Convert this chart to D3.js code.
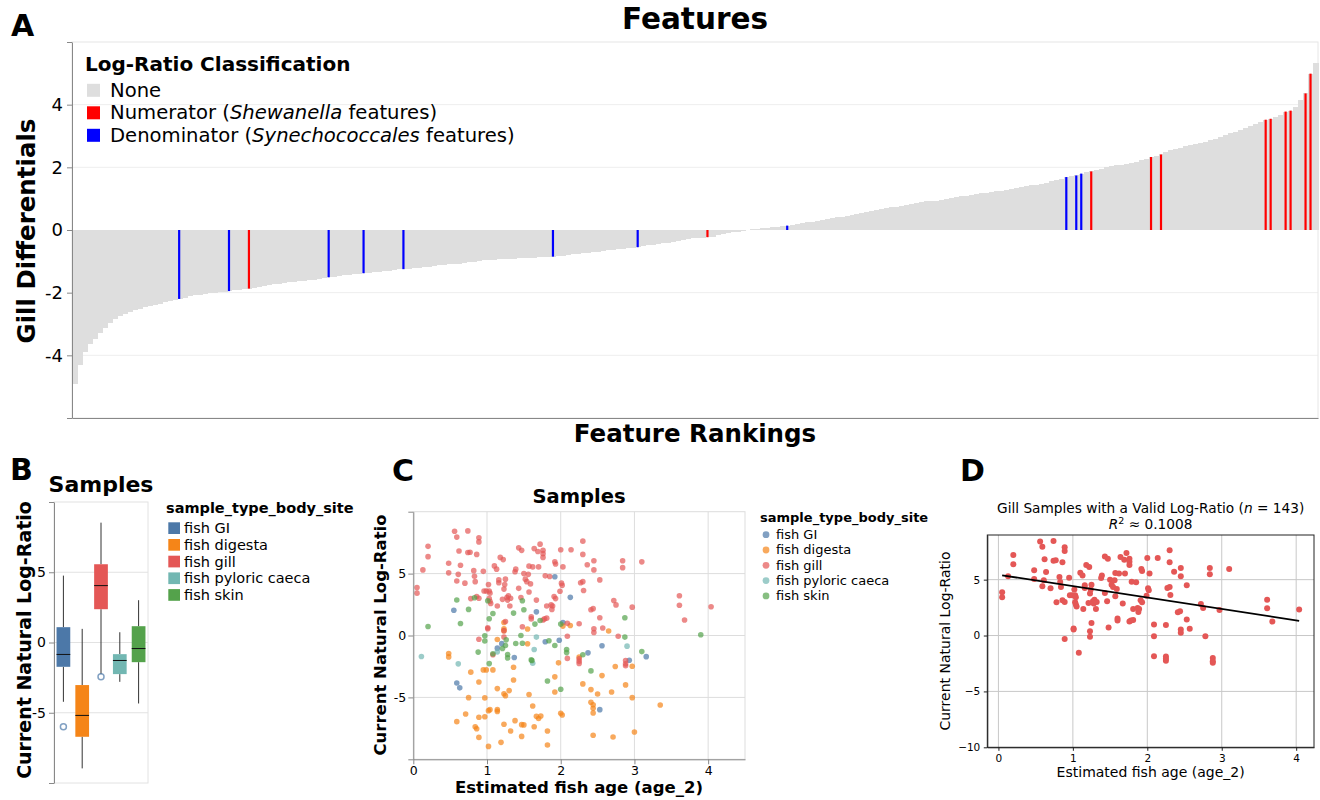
<!DOCTYPE html>
<html>
<head>
<meta charset="utf-8">
<script src="https://cdn.jsdelivr.net/npm/d3@7"></script>
<style>
  body { margin: 0; background: #fff; }
  text { font-family: "DejaVu Sans", sans-serif; }
</style>
</head>
<body>
<svg id="fig" width="1320" height="800"></svg>
<script>
// ---------- data ----------
// A: ranked gill differentials (one bar per feature rank)
const diffValues = [
  -4.90,-4.30,-3.88,-3.65,-3.48,-3.29,-3.12,-2.97,-2.84,-2.74,
  -2.67,-2.62,-2.56,-2.51,-2.47,-2.43,-2.39,-2.35,-2.31,-2.27,
  -2.23,-2.20,-2.16,-2.12,-2.09,-2.07,-2.04,-2.02,-2.00,-1.99,
  -1.97,-1.95,-1.93,-1.91,-1.89,-1.87,-1.84,-1.81,-1.78,-1.75,
  -1.73,-1.71,-1.69,-1.67,-1.66,-1.64,-1.62,-1.60,-1.58,-1.56,
  -1.53,-1.51,-1.49,-1.47,-1.45,-1.43,-1.42,-1.40,-1.38,-1.37,
  -1.35,-1.33,-1.31,-1.30,-1.28,-1.26,-1.25,-1.23,-1.22,-1.20,
  -1.18,-1.17,-1.15,-1.13,-1.12,-1.10,-1.08,-1.07,-1.05,-1.03,
  -1.01,-0.99,-0.97,-0.96,-0.95,-0.94,-0.93,-0.92,-0.91,-0.90,
  -0.89,-0.88,-0.88,-0.87,-0.86,-0.86,-0.85,-0.84,-0.82,-0.80,
  -0.78,-0.76,-0.74,-0.72,-0.71,-0.69,-0.67,-0.65,-0.63,-0.61,
  -0.60,-0.58,-0.56,-0.55,-0.52,-0.49,-0.47,-0.45,-0.43,-0.41,
  -0.38,-0.35,-0.32,-0.30,-0.27,-0.26,-0.25,-0.23,-0.21,-0.16,
  -0.12,-0.10,-0.07,-0.05,-0.02,0.01,0.02,0.04,0.05,0.07,
  0.09,0.11,0.12,0.14,0.16,0.18,0.21,0.24,0.27,0.30,
  0.33,0.36,0.38,0.41,0.43,0.46,0.49,0.52,0.55,0.58,
  0.61,0.64,0.66,0.69,0.72,0.75,0.78,0.81,0.84,0.86,
  0.89,0.91,0.93,0.94,0.96,0.98,1.01,1.04,1.07,1.10,
  1.12,1.15,1.17,1.19,1.21,1.23,1.26,1.28,1.31,1.34,
  1.37,1.40,1.43,1.45,1.48,1.51,1.55,1.59,1.64,1.69,
  1.72,1.74,1.80,1.84,1.87,1.91,1.96,2.00,2.03,2.06,
  2.09,2.12,2.14,2.17,2.22,2.28,2.33,2.37,2.41,2.48,
  2.54,2.59,2.63,2.67,2.71,2.74,2.78,2.82,2.86,2.91,
  2.96,3.02,3.08,3.14,3.20,3.27,3.33,3.39,3.45,3.52,
  3.55,3.60,3.66,3.78,3.81,3.94,4.15,4.36,4.99,5.34
];
const numeratorRanks = [35,127,204,216,218,239,240,243,244,247,248];
const denominatorRanks = [21,31,51,58,66,96,113,143,199,201,202];
const classColors = ["#dedede","#ff0000","#0000ff"];
const classLabels = [
  [["None",false]],
  [["Numerator (",false],["Shewanella",true],[" features)",false]],
  [["Denominator (",false],["Synechococcales",true],[" features)",false]]
];

// B/C: sample types
const sampleTypes = ["fish GI","fish digesta","fish gill","fish pyloric caeca","fish skin"];
const typeColors = ["#4c78a8","#f58518","#e45756","#72b7b2","#54a24b"];

// B: box plot summaries
const boxLower  = [-4.22,-8.96,-2.25,-2.80,-4.34];
const boxQ1     = [-1.73,-6.71, 2.37,-2.25,-1.40];
const boxMedian = [-0.85,-5.19, 4.05,-1.28,-0.43];
const boxQ3     = [ 1.09,-3.03, 5.57,-0.83, 1.16];
const boxUpper  = [ 4.76, 0.97, 8.53, 0.73, 3.01];
const boxOutliers = [[-6.0],[],[-2.44],[],[]];

// C/D: [age_2, log-ratio]
const giPoints = [[0.55,2.04],[0.59,-3.84],[0.63,-4.23],[1.14,-1.02],[1.20,-0.66],[1.37,-1.78],
  [1.67,1.91],[1.79,-0.50],[1.92,4.75],[1.98,-0.38],[2.03,1.04],[2.13,3.08],[2.37,-1.40],
  [2.56,-0.83],[2.53,-5.99],[2.93,-2.00],[3.16,-1.71]];
const digestaPoints = [[0.48,-1.46],[0.48,-1.73],[0.59,-6.96],[0.71,-6.34],[0.75,-5.02],[0.78,-2.96],
  [0.84,-7.37],[0.86,-7.53],[0.89,-6.60],[0.89,-8.23],[0.89,-3.75],[0.95,-2.78],[0.97,-5.04],
  [0.97,-6.56],[0.99,-2.78],[1.02,-6.07],[1.04,-5.99],[1.02,-8.96],[1.08,-2.78],[1.14,-4.29],
  [1.14,-0.32],[1.14,-5.99],[1.14,-6.13],[1.19,-8.63],[1.23,1.05],[1.23,0.54],[1.23,0.38],
  [1.23,-7.17],[1.23,-4.70],[1.25,-4.86],[1.30,-4.45],[1.32,-7.72],[1.36,-2.56],[1.36,-3.60],
  [1.38,-6.88],[1.47,-7.20],[1.50,-7.22],[1.47,-8.15],[1.55,0.52],[1.55,-0.67],[1.57,-4.77],
  [1.62,-5.69],[1.64,-7.37],[1.67,-6.53],[1.70,-6.70],[1.73,-6.50],[1.82,-7.72],[1.82,-8.85],
  [1.92,-3.34],[1.92,-4.56],[1.97,-2.21],[2.00,-6.28],[2.02,-6.42],[2.03,0.76],[2.13,0.81],
  [2.25,-1.74],[2.30,-3.91],[2.41,-4.37],[2.41,-5.39],[2.44,-5.59],[2.44,-5.88],[2.44,-6.26],
  [2.44,-8.06],[2.50,-4.72],[2.56,-3.24],[2.65,0.36],[2.69,-4.56],[2.71,-8.20],[2.74,-2.51],
  [2.88,-3.99],[2.97,-2.48],[2.97,-5.02],[3.00,-7.80],[3.35,-5.61]];
const gillPoints = [
  [0.05,3.87],[0.05,3.42],[0.13,5.30],[0.20,7.20],[0.20,6.37],[0.48,5.83],[0.48,5.06],[0.56,8.42],[0.59,7.95],[0.59,4.40],
  [0.61,4.94],[0.62,6.82],[0.64,5.68],[0.70,4.23],[0.74,8.45],[0.74,6.70],[0.77,6.73],[0.78,2.98],[0.82,5.24],[0.83,4.79],
  [0.84,4.35],[0.86,6.55],[0.86,3.15],[0.89,7.89],[0.89,7.56],[0.89,3.01],[0.89,-0.30],[0.95,5.18],[0.96,3.60],[0.99,3.60],
  [1.01,0.63],[1.01,0.54],[1.02,4.11],[1.03,3.60],[1.03,2.98],[1.04,3.42],[1.04,2.77],[1.05,2.59],[1.08,-1.55],[1.10,5.62],
  [1.13,5.36],[1.14,2.38],[1.16,4.26],[1.16,4.49],[1.18,6.31],[1.21,2.92],[1.22,6.13],[1.23,3.75],[1.23,0.39],[1.23,-0.12],
  [1.24,4.11],[1.25,4.55],[1.25,1.13],[1.27,3.07],[1.28,2.86],[1.29,3.21],[1.31,2.38],[1.32,3.01],[1.38,5.15],[1.39,5.36],
  [1.43,7.08],[1.43,3.81],[1.46,3.07],[1.47,6.88],[1.48,0.71],[1.50,5.00],[1.52,4.55],[1.54,4.35],[1.56,4.94],[1.57,5.60],
  [1.57,3.51],[1.59,4.17],[1.60,1.52],[1.60,1.34],[1.62,5.54],[1.64,7.02],[1.67,2.86],[1.69,6.79],[1.70,5.54],[1.72,7.38],
  [1.76,6.88],[1.76,6.61],[1.76,6.31],[1.76,1.25],[1.78,1.34],[1.79,4.82],[1.81,2.38],[1.81,1.40],[1.85,4.76],[1.87,2.47],
  [1.88,2.11],[1.89,2.38],[1.91,3.15],[1.92,5.95],[1.93,5.77],[1.93,2.98],[1.99,3.57],[2.00,6.93],[2.01,4.23],[2.02,4.05],
  [2.03,5.54],[2.09,0.98],[2.09,-0.06],[2.09,-1.85],[2.14,6.93],[2.25,0.95],[2.25,-1.88],[2.25,-2.08],[2.25,-2.26],[2.27,4.26],
  [2.30,4.35],[2.30,7.62],[2.30,6.55],[2.31,3.63],[2.36,5.71],[2.41,2.08],[2.44,2.17],[2.45,6.04],[2.45,5.30],[2.45,0.54],
  [2.45,0.24],[2.53,4.49],[2.53,1.43],[2.57,0.60],[2.72,2.83],[2.75,2.47],[2.78,-0.06],[2.84,6.04],[2.84,5.48],[2.88,-2.02],
  [2.88,-2.29],[2.88,-2.44],[2.97,2.29],[3.10,5.95],[3.61,3.21],[3.61,2.44],[3.68,1.25],[4.04,2.32]];
const pyloricPoints = [[0.11,-1.70],[0.61,-2.29],[1.14,-1.32],[1.64,-1.13],[1.67,-0.13],[1.62,-2.24],[2.90,-0.86]];
const skinPoints = [[0.20,0.73],[0.59,2.87],[0.64,0.97],[0.75,2.11],[0.83,3.05],[1.01,2.81],[1.03,1.35],
  [1.08,1.78],[0.97,-0.02],[0.97,-0.45],[0.88,-1.34],[1.03,-2.27],[1.08,-1.48],[1.26,-0.35],[1.25,-0.81],
  [1.21,-1.05],[1.28,-1.54],[1.28,-1.81],[1.36,1.81],[1.39,-0.65],[1.48,2.81],[1.50,2.08],[1.46,0.00],
  [1.48,-0.62],[1.60,-1.97],[1.61,-2.02],[1.65,0.92],[1.72,1.21],[1.84,-0.43],[1.92,-0.81],[2.00,0.92],
  [2.08,-1.13],[2.08,-1.38],[1.82,-3.67],[2.00,-4.34],[2.30,-1.56],[2.41,-2.86],[2.87,1.43],[2.87,-0.13],
  [3.10,-1.30],[3.90,0.06]];

// D: regression
const fitIntercept = 5.44, fitSlope = -1.02;
const nGill = 143, r2 = "0.1008";

// ---------- helpers ----------
const svg = d3.select("#fig");
svg.append("rect").attr("width", 1320).attr("height", 800).attr("fill", "#fff");

function styleAxis(g, fs, domainColor, labelColor) {
  g.attr("font-family", "DejaVu Sans").attr("font-size", fs);
  g.select(".domain").attr("stroke", domainColor);
  g.selectAll(".tick line").attr("stroke", domainColor);
  g.selectAll(".tick text").attr("fill", labelColor || "#000");
}
function hGrid(scale, values, x0, x1, color) {
  svg.append("g").selectAll("line").data(values).join("line")
    .attr("x1", x0).attr("x2", x1)
    .attr("y1", d => scale(d)).attr("y2", d => scale(d))
    .attr("stroke", color).attr("stroke-width", 1);
}
function vGrid(scale, values, y0, y1, color) {
  svg.append("g").selectAll("line").data(values).join("line")
    .attr("y1", y0).attr("y2", y1)
    .attr("x1", d => scale(d)).attr("x2", d => scale(d))
    .attr("stroke", color).attr("stroke-width", 1);
}
function label(txt, x, y, size, weight, anchor, rotate) {
  const t = svg.append("text").text(txt)
    .attr("font-size", size).attr("font-weight", weight || "normal")
    .attr("text-anchor", anchor || "start");
  if (rotate) t.attr("transform", `translate(${x},${y}) rotate(-90)`);
  else t.attr("x", x).attr("y", y);
  return t;
}

// panel letters
[["A", 11, 36], ["B", 10, 480], ["C", 392, 481], ["D", 960, 481]].forEach(([l, x, y]) =>
  svg.append("text").text(l).attr("x", x).attr("y", y)
    .attr("font-family", "Liberation Sans, Arial, sans-serif")
    .attr("font-weight", "bold").attr("font-size", 30));

// ---------- A: features ----------
const aL = 72, aR = 1318, aT = 42, aB = 418;
const xA = d3.scaleBand().domain(d3.range(diffValues.length)).range([aL, aR]);
const yA = d3.scaleLinear().domain([-6, 6]).range([aB, aT]);

hGrid(yA, [-4, -2, 2, 4], aL, aR, "#eeeeee");
svg.append("rect").attr("x", aL).attr("y", aT).attr("width", aR - aL).attr("height", aB - aT)
  .attr("fill", "none").attr("stroke", "#e6e6e6");

const bw = xA.bandwidth();
svg.append("g").attr("shape-rendering", "crispEdges")
  .selectAll("rect").data(diffValues).join("rect")
  .attr("x", (d, i) => xA(i)).attr("width", bw + 1)
  .attr("y", d => yA(Math.max(0, d)))
  .attr("height", d => Math.abs(yA(d) - yA(0)))
  .attr("fill", classColors[0]);

const highlighted = numeratorRanks.map(r => ({ r, c: 1 }))
  .concat(denominatorRanks.map(r => ({ r, c: 2 })));
svg.append("g").selectAll("rect").data(highlighted).join("rect")
  .attr("x", d => xA(d.r) + bw * 0.28).attr("width", bw * 0.44)
  .attr("y", d => yA(Math.max(0, diffValues[d.r])))
  .attr("height", d => Math.abs(yA(diffValues[d.r]) - yA(0)))
  .attr("fill", d => classColors[d.c]);

const gyA = svg.append("g").attr("transform", `translate(${aL},0)`)
  .call(d3.axisLeft(yA).tickValues([-6, -4, -2, 0, 2, 4, 6]).tickSize(5).tickSizeOuter(0)
    .tickPadding(4).tickFormat(d => Math.abs(d) === 6 ? "" : String(d)));
styleAxis(gyA, 18, "#888");
const gxA = svg.append("g").attr("transform", `translate(0,${aB})`)
  .call(d3.axisBottom(xA).tickValues([]).tickSizeOuter(0));
styleAxis(gxA, 18, "#888");

label("Features", (aL + aR) / 2, 29, 29.5, "bold", "middle");
label("Feature Rankings", (aL + aR) / 2, 442, 24.5, "bold", "middle");
label("Gill Differentials", 35, 231, 24.5, "bold", "middle", true);

// legend A
label("Log-Ratio Classification", 85, 70.5, 20, "bold");
classLabels.forEach((parts, i) => {
  const base = 96.5 + i * 22.5;
  svg.append("rect").attr("x", 87).attr("y", base - 12.7).attr("width", 13).attr("height", 13)
    .attr("fill", classColors[i]);
  const t = svg.append("text").attr("x", 110).attr("y", base).attr("font-size", 19.6);
  parts.forEach(([s, it]) => t.append("tspan").text(s).attr("font-style", it ? "italic" : "normal"));
});

// ---------- B: box plots ----------
const bL = 54, bR = 148, bT = 502, bB = 783;
const xB = d3.scaleBand().domain(sampleTypes).range([bL, bR]);
const yB = d3.scaleLinear().domain([-10, 10]).range([bB, bT]);
hGrid(yB, [-5, 0, 5], bL, bR, "#e2e2e2");
svg.append("rect").attr("x", bL).attr("y", bT).attr("width", bR - bL).attr("height", bB - bT)
  .attr("fill", "none").attr("stroke", "#e2e2e2");

const boxes = sampleTypes.map((t, i) => ({
  t, c: typeColors[i], lo: boxLower[i], q1: boxQ1[i], med: boxMedian[i],
  q3: boxQ3[i], hi: boxUpper[i], out: boxOutliers[i]
}));
const boxW = xB.bandwidth() * 0.73;
const gB = svg.append("g").selectAll("g").data(boxes).join("g")
  .attr("transform", d => `translate(${xB(d.t) + xB.bandwidth() / 2},0)`);
gB.append("line").attr("y1", d => yB(d.lo)).attr("y2", d => yB(d.q1)).attr("stroke", "#333");
gB.append("line").attr("y1", d => yB(d.q3)).attr("y2", d => yB(d.hi)).attr("stroke", "#333");
gB.append("rect").attr("x", -boxW / 2).attr("width", boxW)
  .attr("y", d => yB(d.q3)).attr("height", d => yB(d.q1) - yB(d.q3)).attr("fill", d => d.c);
gB.append("line").attr("x1", -boxW / 2).attr("x2", boxW / 2)
  .attr("y1", d => yB(d.med)).attr("y2", d => yB(d.med)).attr("stroke", "#111");
gB.selectAll("circle").data(d => d.out).join("circle")
  .attr("cy", d => yB(d)).attr("r", 3).attr("fill", "none")
  .attr("stroke", "#4c78a8").attr("stroke-opacity", 0.7).attr("stroke-width", 1.5);

const gyB = svg.append("g").attr("transform", `translate(${bL},0)`)
  .call(d3.axisLeft(yB).tickValues([-10, -5, 0, 5, 10]).tickSize(5).tickSizeOuter(0)
    .tickPadding(3).tickFormat(d => Math.abs(d) === 10 ? "" : String(d)));
styleAxis(gyB, 14, "#888");

label("Samples", (bL + bR) / 2, 492, 22, "bold", "middle");
label("Current Natural Log-Ratio", 31, 640, 19, "bold", "middle", true);

label("sample_type_body_site", 166, 513, 14.5, "bold");
sampleTypes.forEach((t, i) => {
  const base = 533.3 + i * 16.7;
  svg.append("rect").attr("x", 168.3).attr("y", base - 11).attr("width", 11.7).attr("height", 11.7)
    .attr("fill", typeColors[i]);
  label(t, 184, base, 14.5);
});

// ---------- C: scatter, all samples ----------
const cL = 413.3, cR = 745, cT = 511.7, cB = 759.3;
const xC = d3.scaleLinear().domain([0, 4.5]).range([cL, cR]);
const yC = d3.scaleLinear().domain([-10, 10]).range([cB, cT]);
hGrid(yC, [-5, 0, 5], cL, cR, "#dddddd");
vGrid(xC, [1, 2, 3, 4], cT, cB, "#dddddd");
svg.append("rect").attr("x", cL).attr("y", cT).attr("width", cR - cL).attr("height", cB - cT)
  .attr("fill", "none").attr("stroke", "#dddddd");

const seriesC = [giPoints, digestaPoints, gillPoints, pyloricPoints, skinPoints];
const allC = seriesC.flatMap((pts, i) => pts.map(p => ({ x: p[0], y: p[1], c: typeColors[i] })));
svg.append("g").selectAll("circle").data(allC).join("circle")
  .attr("cx", d => xC(d.x)).attr("cy", d => yC(d.y)).attr("r", 2.8)
  .attr("fill", d => d.c).attr("fill-opacity", 0.7);

const gyC = svg.append("g").attr("transform", `translate(${cL},0)`)
  .call(d3.axisLeft(yC).tickValues([-10, -5, 0, 5, 10]).tickSize(5).tickSizeOuter(0)
    .tickPadding(2).tickFormat(d => Math.abs(d) === 10 ? "" : String(d)));
styleAxis(gyC, 12.5, "#888");
const gxC = svg.append("g").attr("transform", `translate(0,${cB})`)
  .call(d3.axisBottom(xC).tickValues([0, 1, 2, 3, 4]).tickSize(5).tickSizeOuter(0)
    .tickPadding(2).tickFormat(d => String(d)));
styleAxis(gxC, 12.5, "#888");

label("Samples", 579, 503, 19.5, "bold", "middle");
label("Current Natural Log-Ratio", 386, 635, 16.5, "bold", "middle", true);
label("Estimated fish age (age_2)", 579, 793, 16.5, "bold", "middle");

label("sample_type_body_site", 760, 522, 13, "bold");
sampleTypes.forEach((t, i) => {
  const base = 539 + i * 15.3;
  svg.append("circle").attr("cx", 766).attr("cy", base - 4.3).attr("r", 3.4)
    .attr("fill", typeColors[i]).attr("fill-opacity", 0.7);
  label(t, 776, base, 13);
});

// ---------- D: gill samples with regression ----------
const dL = 987.3, dR = 1314, dT = 535, dB = 747.3;
const ageExt = d3.extent(gillPoints, p => p[0]);
const ratioMax = d3.max(gillPoints, p => p[1]);
const ratioMin = d3.min(gillPoints, p => p[1]);
const ageMargin = 0.05 * (ageExt[1] - ageExt[0]);
const xD = d3.scaleLinear().domain([ageExt[0] - ageMargin, ageExt[1] + ageMargin]).range([dL, dR]);
const yD = d3.scaleLinear().domain([-10, ratioMax + 0.05 * (ratioMax - ratioMin)]).range([dB, dT]);

hGrid(yD, [-5, 0, 5], dL, dR, "#c8c8c8");
vGrid(xD, [0, 1, 2, 3, 4], dT, dB, "#c8c8c8");

svg.append("g").selectAll("circle").data(gillPoints).join("circle")
  .attr("cx", d => xD(d[0])).attr("cy", d => yD(d[1])).attr("r", 3)
  .attr("fill", "#e45756");

svg.append("line")
  .attr("x1", xD(ageExt[0])).attr("y1", yD(fitIntercept + fitSlope * ageExt[0]))
  .attr("x2", xD(ageExt[1])).attr("y2", yD(fitIntercept + fitSlope * ageExt[1]))
  .attr("stroke", "#000").attr("stroke-width", 1.8);

svg.append("rect").attr("x", dL).attr("y", dT).attr("width", dR - dL).attr("height", dB - dT)
  .attr("fill", "none").attr("stroke", "#222").attr("stroke-width", 1);

const minusFmt = d => String(d).replace("-", "\u2212");
const gyD = svg.append("g").attr("transform", `translate(${dL},0)`)
  .call(d3.axisLeft(yD).tickValues([-10, -5, 0, 5]).tickSize(3.5).tickSizeOuter(0)
    .tickPadding(3.5).tickFormat(minusFmt));
styleAxis(gyD, 10.5, "#222");
const gxD = svg.append("g").attr("transform", `translate(0,${dB})`)
  .call(d3.axisBottom(xD).tickValues([0, 1, 2, 3, 4]).tickSize(3.5).tickSizeOuter(0)
    .tickPadding(3.5).tickFormat(minusFmt));
styleAxis(gxD, 10.5, "#222");

const dC = (dL + dR) / 2;
const t1 = svg.append("text").attr("x", dC).attr("y", 513).attr("font-size", 13.7).attr("text-anchor", "middle");
t1.append("tspan").text("Gill Samples with a Valid Log-Ratio (");
t1.append("tspan").text("n").attr("font-style", "italic");
t1.append("tspan").text(` = ${nGill})`);
const t2 = svg.append("text").attr("x", dC).attr("y", 528.5).attr("font-size", 13.7).attr("text-anchor", "middle");
t2.append("tspan").text("R").attr("font-style", "italic");
t2.append("tspan").text("2").attr("font-size", 9.5).attr("dy", -5);
t2.append("tspan").text(` \u2248 ${r2}`).attr("dy", 5);

label("Current Natural Log-Ratio", 950, 641, 14, "normal", "middle", true);
label("Estimated fish age (age_2)", dC, 777, 14, "normal", "middle");
</script>
</body>
</html>
